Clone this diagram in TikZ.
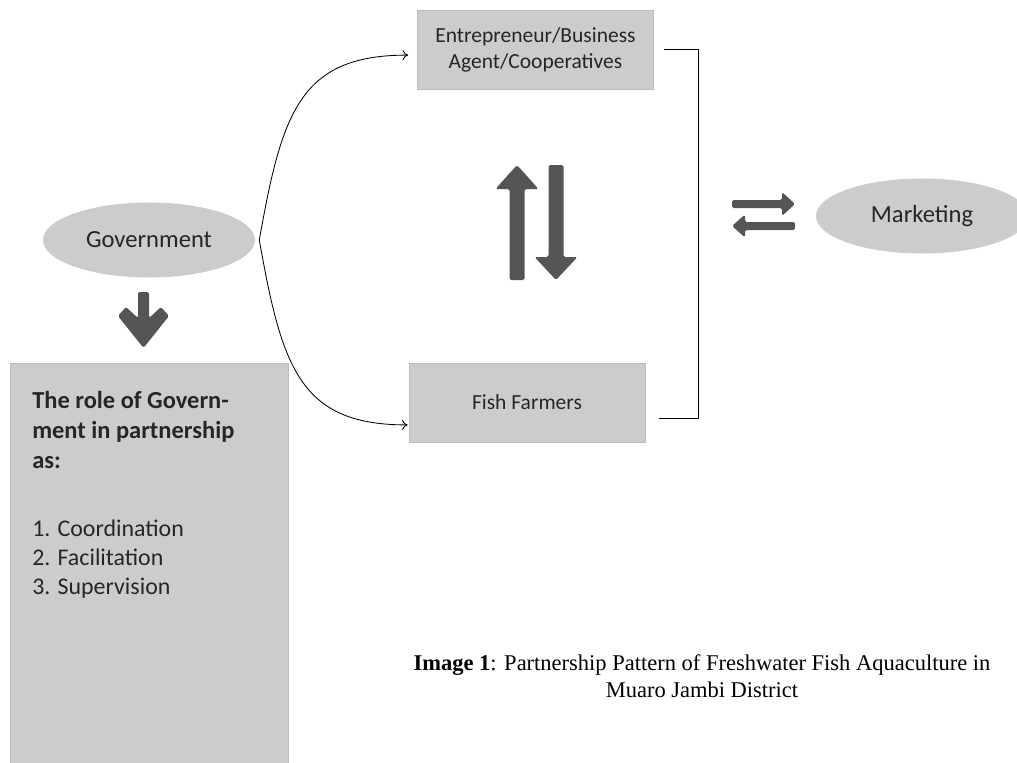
\documentclass[tikz,border=0pt]{standalone}
\usepackage{fontspec}
\setmainfont{Carlito}
\newfontfamily\capfont{Liberation Serif}
\usepackage{tikz}
\usetikzlibrary{arrows.meta, positioning, shapes.geometric, calc}
\usepackage{xcolor}
\definecolor{boxgray}{RGB}{204, 204, 204}
\definecolor{edgegray}{RGB}{188, 188, 188}
\definecolor{arrowgray}{RGB}{85, 85, 85}
\definecolor{textgray}{RGB}{38, 38, 38}

\begin{document}
\begin{tikzpicture}[
  x=0.025cm, y=-0.025cm,
  box/.style={draw=edgegray, fill=boxgray, minimum width=5.9cm, minimum height=1.975cm, inner sep=0, align=center, text=textgray, font=\fontsize{15.3}{18.5}\selectfont},
  oval/.style={ellipse, fill=boxgray, minimum width=5.3cm, minimum height=1.875cm, inner sep=0, text=textgray, font=\fontsize{17.5}{20}\selectfont},
  roletext/.style={align=left, inner sep=0, text=textgray, anchor=north west},
  blockarrow/.style={fill=arrowgray, rounded corners=1.2pt},
  conn/.style={line width=0.6pt, black},
  caption/.style={align=center, font=\capfont\fontsize{16}{19.5}\selectfont}
]
  \useasboundingbox (0, 0) rectangle (1017, 762);

  % Partners
  \node[box] (ent) at (535.5, 49.5) {Entrepreneur/Business\\Agent/Cooperatives};
  \node[box] (farm) at (527, 402.5) {Fish Farmers};
  \node[oval] (gov) at (149, 240) {Government};
  \node[oval] (mkt) at (922, 216) {Marketing};

  % Role of government
  \node[box, minimum width=6.95cm, minimum height=10.05cm] (role) at (149, 564) {};
  \node[roletext, font=\bfseries\fontsize{17.4}{21.5}\selectfont] (rolehead) at (32, 391) {The role of Govern-\\ment in partnership\\as:};
  \node[roletext, font=\fontsize{17}{20.6}\selectfont] (rolelist) at (32, 520) {1. Coordination\\2. Facilitation\\3. Supervision};

  % Block arrows
  \fill[blockarrow] (138, 292) -- (149, 292) -- (149, 318) -- (161, 307) -- (169, 316) -- (143.5, 348) -- (118, 316) -- (126, 307) -- (138, 318) -- cycle;
  \fill[blockarrow] (517, 165) -- (538.5, 189) -- (524.5, 189) -- (524.5, 280) -- (509.5, 280) -- (509.5, 189) -- (495.5, 189) -- cycle;
  \fill[blockarrow] (556, 280) -- (577.5, 257) -- (563.5, 257) -- (563.5, 165) -- (548.5, 165) -- (548.5, 257) -- (534.5, 257) -- cycle;
  \fill[blockarrow] (795, 204) -- (782, 192) -- (782, 200) -- (732, 200) -- (732, 208) -- (782, 208) -- (782, 216) -- cycle;
  \fill[blockarrow] (732, 226) -- (745, 214.5) -- (745, 222) -- (795, 222) -- (795, 230) -- (745, 230) -- (745, 237.5) -- cycle;

  % Connectors
  \draw[conn, -{To[length=4pt, width=7pt]}] ([xshift=0.1cm]gov.east) .. controls (282, 112) and (300, 55) .. ([xshift=-0.225cm, yshift=-0.14cm]ent.west);
  \draw[conn, -{To[length=4pt, width=7pt]}] ([xshift=0.1cm]gov.east) .. controls (282, 368) and (300, 425) .. ([xshift=-0.025cm, yshift=-0.56cm]farm.west);
  \coordinate (brk) at (698, 233);
  \draw[conn] ([xshift=0.25cm]ent.east) -| (brk) |- ([xshift=0.35cm, yshift=-0.39cm]farm.east);

  % Caption
  \node[caption] (cap) at (702, 676) {\textbf{Image 1}: Partnership Pattern of Freshwater Fish Aquaculture in\\Muaro Jambi District};
\end{tikzpicture}
\end{document}
